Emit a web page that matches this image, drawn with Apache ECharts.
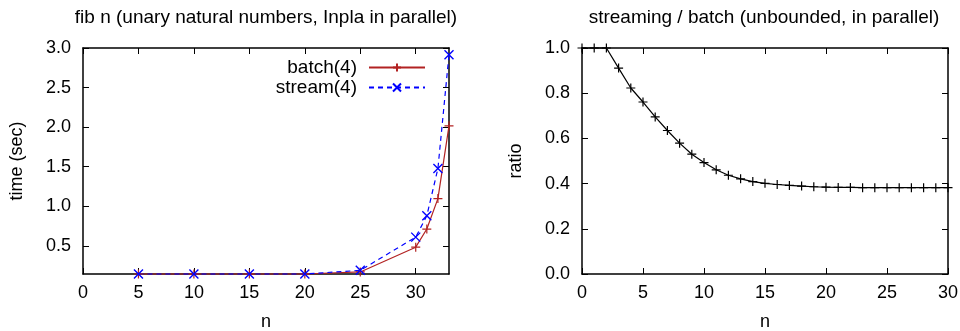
<!DOCTYPE html>
<html>
<head>
<meta charset="utf-8">
<script src="https://cdn.jsdelivr.net/npm/echarts@6/dist/echarts.min.js"></script>
<style>
  html, body { margin: 0; padding: 0; background: #fff; }
  #chart { width: 960px; height: 331px; }
</style>
</head>
<body>
<div id="chart"></div>
<script>
// Left panel: fib n timings (seconds)
const fibN = [5, 10, 15, 20, 25, 30, 31, 32, 33];
const batchTime = [0.144, 0.144, 0.144, 0.144, 0.17, 0.483, 0.712, 1.097, 2.016];
const streamTime = [0.144, 0.144, 0.144, 0.144, 0.19, 0.61, 0.881, 1.476, 2.915];
const timeTicks = [0.5, 1.0, 1.5, 2.0, 2.5, 3.0];
const nTicksLeft = [0, 5, 10, 15, 20, 25, 30];

// Right panel: streaming / batch ratio
const ratioN = [0, 1, 2, 3, 4, 5, 6, 7, 8, 9, 10, 11, 12, 13, 14, 15, 16, 17, 18, 19, 20,
                21, 22, 23, 24, 25, 26, 27, 28, 29, 30];
const ratio = [1.0, 1.0, 1.0, 0.911, 0.823, 0.761, 0.695, 0.635, 0.579, 0.530, 0.493,
               0.461, 0.437, 0.421, 0.409, 0.401, 0.396, 0.392, 0.389, 0.386, 0.384,
               0.383, 0.383, 0.382, 0.382, 0.382, 0.382, 0.382, 0.382, 0.382, 0.382];
const ratioTicks = [0.0, 0.2, 0.4, 0.6, 0.8, 1.0];
const nTicksRight = [0, 5, 10, 15, 20, 25, 30];

const FONT = 'Liberation Sans';
const TICK_FONT = 18;
const TEXT_FONT = 19;
const PLUS = 'path://M5,0L5,10M0,5L10,5';
const CROSS = 'path://M0,0L10,10M10,0L0,10';

function pair(arrX, arrY) { return arrX.map((x, i) => [x, arrY[i]]); }

const axisLineStyle = { color: '#000', width: 1.5 };

function mainX(grid, min, max, ticks) {
  return {
    type: 'value', gridIndex: grid, min: min, max: max, position: 'bottom',
    name: 'n', nameLocation: 'middle', nameGap: 39,
    nameTextStyle: { fontFamily: FONT, fontSize: TICK_FONT, color: '#000' },
    axisLine: { show: true, onZero: false, lineStyle: axisLineStyle },
    axisTick: { show: true, inside: true, length: 6, customValues: ticks, lineStyle: { color: '#000' } },
    axisLabel: { customValues: ticks, fontFamily: FONT, fontSize: TICK_FONT, color: '#000', margin: 10 },
    splitLine: { show: false }
  };
}
function mirrorX(grid, min, max, ticks) {
  return {
    type: 'value', gridIndex: grid, min: min, max: max, position: 'top',
    axisLine: { show: true, onZero: false, lineStyle: axisLineStyle },
    axisTick: { show: true, inside: true, length: 6, customValues: ticks, lineStyle: { color: '#000' } },
    axisLabel: { show: false },
    splitLine: { show: false }
  };
}
function mainY(grid, min, max, ticks, name) {
  return {
    type: 'value', gridIndex: grid, min: min, max: max, position: 'left',
    name: name, nameLocation: 'middle', nameGap: 57,
    nameTextStyle: { fontFamily: FONT, fontSize: TICK_FONT, color: '#000' },
    axisLine: { show: true, onZero: false, lineStyle: axisLineStyle },
    axisTick: { show: true, inside: true, length: 6, customValues: ticks, lineStyle: { color: '#000' } },
    axisLabel: { customValues: ticks, fontFamily: FONT, fontSize: TICK_FONT, color: '#000', margin: 12,
                 formatter: v => v.toFixed(1) },
    splitLine: { show: false }
  };
}
function mirrorY(grid, min, max, ticks) {
  return {
    type: 'value', gridIndex: grid, min: min, max: max, position: 'right',
    axisLine: { show: true, onZero: false, lineStyle: axisLineStyle },
    axisTick: { show: true, inside: true, length: 6, customValues: ticks, lineStyle: { color: '#000' } },
    axisLabel: { show: false },
    splitLine: { show: false }
  };
}

const chart = echarts.init(document.getElementById('chart'), null, { renderer: 'canvas' });
chart.setOption({
  animation: false,
  backgroundColor: '#fff',
  title: [
    { text: 'fib n (unary natural numbers, Inpla in parallel)', left: 261, top: 3, textAlign: 'center',
      textStyle: { fontFamily: FONT, fontSize: TEXT_FONT, fontWeight: 'normal', color: '#000' } },
    { text: 'streaming / batch (unbounded, in parallel)', left: 759, top: 3, textAlign: 'center',
      textStyle: { fontFamily: FONT, fontSize: TEXT_FONT, fontWeight: 'normal', color: '#000' } }
  ],
  legend: {
    right: 960 - 431, top: 53, orient: 'vertical', align: 'right',
    itemWidth: 56, itemHeight: 10, itemGap: 1,
    textStyle: { fontFamily: FONT, fontSize: TEXT_FONT, color: '#000', padding: [0, 7, 0, 0] },
    data: ['batch(4)', 'stream(4)']
  },
  grid: [
    { left: 83, top: 48, width: 366, height: 226, outerBoundsMode: 'none', containLabel: false },
    { left: 582, top: 48, width: 366, height: 226, outerBoundsMode: 'none', containLabel: false }
  ],
  xAxis: [
    mainX(0, 0, 33, nTicksLeft),
    mirrorX(0, 0, 33, nTicksLeft),
    mainX(1, 0, 30, nTicksRight),
    mirrorX(1, 0, 30, nTicksRight)
  ],
  yAxis: [
    mainY(0, 0.144, 3.0, timeTicks, 'time (sec)'),
    mirrorY(0, 0.144, 3.0, timeTicks),
    mainY(1, 0, 1.0, ratioTicks, 'ratio'),
    mirrorY(1, 0, 1.0, ratioTicks)
  ],
  series: [
    {
      name: 'batch(4)', type: 'line', xAxisIndex: 0, yAxisIndex: 0,
      data: pair(fibN, batchTime), clip: false,
      symbol: PLUS, symbolSize: 9,
      lineStyle: { color: '#b22222', width: 1.2 },
      itemStyle: { color: '#b22222', borderColor: '#b22222', borderWidth: 1.2 }
    },
    {
      name: 'stream(4)', type: 'line', xAxisIndex: 0, yAxisIndex: 0,
      data: pair(fibN, streamTime), clip: false,
      symbol: CROSS, symbolSize: 9,
      lineStyle: { color: '#0000ff', width: 1.2, type: [5, 4] },
      itemStyle: { color: '#0000ff', borderColor: '#0000ff', borderWidth: 1.4 }
    },
    {
      name: 'ratio', type: 'line', xAxisIndex: 2, yAxisIndex: 2,
      data: pair(ratioN, ratio), clip: false,
      symbol: PLUS, symbolSize: 9,
      lineStyle: { color: '#000', width: 1.2 },
      itemStyle: { color: '#000', borderColor: '#000', borderWidth: 1.2 }
    }
  ]
});
</script>
</body>
</html>
